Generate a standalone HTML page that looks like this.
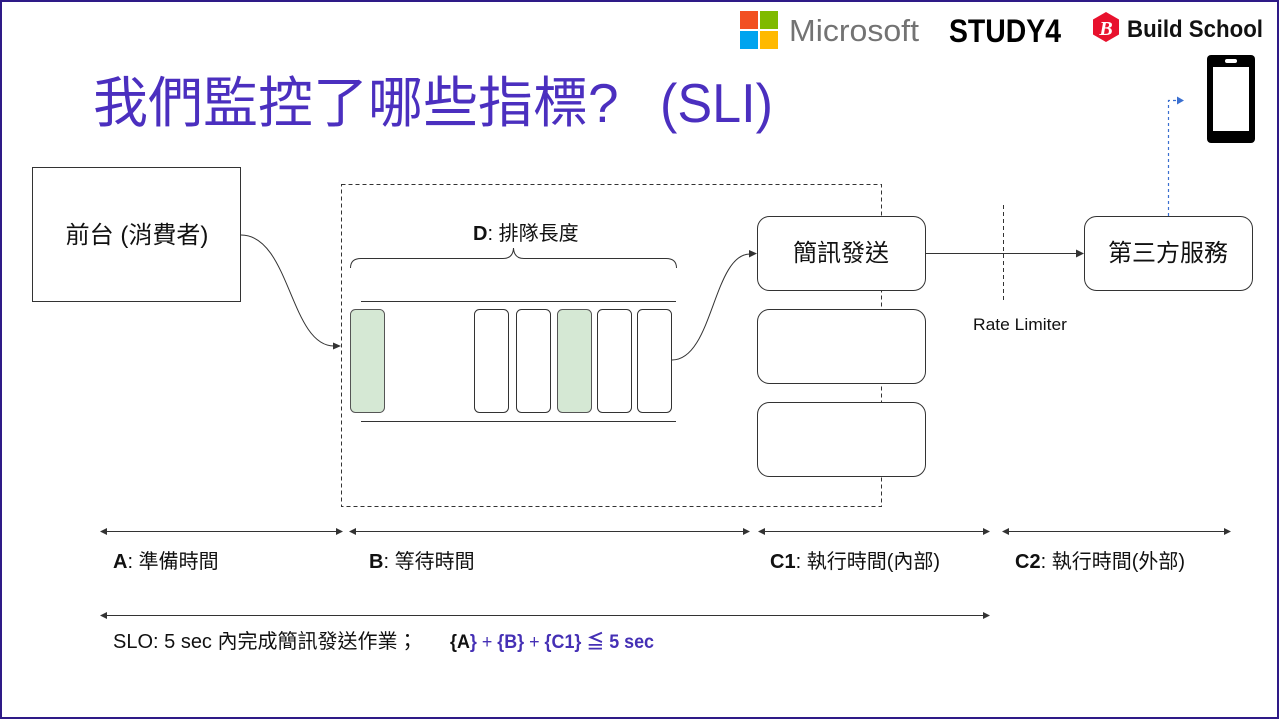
<!DOCTYPE html>
<html><head><meta charset="utf-8"><style>
html,body{margin:0;padding:0;background:#fff;}
svg{display:block;}
text{font-family:"Liberation Sans","Noto Sans CJK TC",sans-serif;}
</style></head><body>
<svg width="1280" height="720" viewBox="0 0 1280 720" xmlns="http://www.w3.org/2000/svg">
<rect x="0" y="0" width="1280" height="720" fill="#fff"/>
<rect x="1" y="1" width="1277" height="717" fill="none" stroke="#2e1a87" stroke-width="2"/>

<!-- logos -->
<rect x="740" y="11" width="18" height="18" fill="#f25022"/>
<rect x="760" y="11" width="18" height="18" fill="#7fba00"/>
<rect x="740" y="31" width="18" height="18" fill="#00a4ef"/>
<rect x="760" y="31" width="18" height="18" fill="#ffb900"/>
<text x="789" y="41" font-size="31" fill="#737373" textLength="130" lengthAdjust="spacingAndGlyphs">Microsoft</text>
<text x="949" y="42" font-size="32" font-weight="bold" fill="#000" textLength="112" lengthAdjust="spacingAndGlyphs">STUDY4</text>
<polygon points="1106,12 1119,19.5 1119,34.5 1106,42 1093,34.5 1093,19.5" fill="#e8112d"/>
<text x="1106" y="35" font-size="20" font-weight="bold" font-style="italic" fill="#fff" text-anchor="middle" style="font-family:'Liberation Serif',serif">B</text>
<text x="1127" y="37" font-size="24" font-weight="bold" fill="#111" textLength="136" lengthAdjust="spacingAndGlyphs">Build School</text>

<!-- phone -->
<rect x="1207" y="55" width="48" height="88" rx="4" fill="#000"/>
<rect x="1213" y="67" width="36" height="64" fill="#fff"/>
<rect x="1225" y="59" width="12" height="4" rx="2" fill="#fff"/>

<!-- blue dashed arrow -->
<path d="M1168.5,216 L1168.5,100.5 L1177,100.5" fill="none" stroke="#3a6fd0" stroke-width="1.2" stroke-dasharray="3,3"/>
<polygon points="1184,100.5 1177,96.5 1177,104.5" fill="#3a6fd0"/>

<!-- title -->
<text x="93" y="122" font-size="55" fill="#4b2fbf">我們監控了哪些指標?</text>
<text x="660" y="122" font-size="55" fill="#4b2fbf" textLength="113" lengthAdjust="spacingAndGlyphs">(SLI)</text>

<!-- 前台 box -->
<rect x="32.5" y="167.5" width="208" height="134" fill="#fff" stroke="#333" stroke-width="1"/>
<text x="137" y="243" font-size="24" fill="#111" text-anchor="middle">前台 (消費者)</text>

<!-- curve 1 -->
<path d="M241,235 C290,235 290,346 334,346" fill="none" stroke="#333" stroke-width="1"/>
<polygon points="341,346 333,342.5 333,349.5" fill="#333"/>

<!-- dashed container -->
<rect x="341.5" y="184.5" width="540" height="322" fill="none" stroke="#333" stroke-width="1" stroke-dasharray="4,3"/>

<!-- D label + brace -->
<text x="473" y="240" font-size="20" fill="#111"><tspan font-weight="bold">D</tspan>: 排隊長度</text>
<path d="M350.5,268 Q350.5,258.5 361,258.5 L503,258.5 Q513,258.5 513.5,248 Q514,258.5 524,258.5 L666,258.5 Q676.5,258.5 676.5,268" fill="none" stroke="#333" stroke-width="1"/>

<!-- queue -->
<line x1="361" y1="301.5" x2="676" y2="301.5" stroke="#333" stroke-width="1"/>
<line x1="361" y1="421.5" x2="676" y2="421.5" stroke="#333" stroke-width="1"/>
<rect x="350.5" y="309.5" width="34" height="103" rx="5" fill="#d5e8d4" stroke="#555"/>
<rect x="474.5" y="309.5" width="34" height="103" rx="5" fill="#fff" stroke="#333"/>
<rect x="516.5" y="309.5" width="34" height="103" rx="5" fill="#fff" stroke="#333"/>
<rect x="557.5" y="309.5" width="34" height="103" rx="5" fill="#d5e8d4" stroke="#555"/>
<rect x="597.5" y="309.5" width="34" height="103" rx="5" fill="#fff" stroke="#333"/>
<rect x="637.5" y="309.5" width="34" height="103" rx="5" fill="#fff" stroke="#333"/>

<!-- curve 2 -->
<path d="M672,360 C713,360 713,254 750,254" fill="none" stroke="#333" stroke-width="1"/>
<polygon points="757,253.5 749,250 749,257.5" fill="#333"/>

<!-- worker boxes -->
<rect x="757.5" y="216.5" width="168" height="74" rx="12" fill="#fff" stroke="#333"/>
<text x="841" y="261" font-size="24" fill="#111" text-anchor="middle">簡訊發送</text>
<rect x="757.5" y="309.5" width="168" height="74" rx="12" fill="#fff" stroke="#333"/>
<rect x="757.5" y="402.5" width="168" height="74" rx="12" fill="#fff" stroke="#333"/>

<!-- to third party -->
<line x1="926" y1="253.5" x2="1077" y2="253.5" stroke="#333" stroke-width="1"/>
<polygon points="1084,253.5 1076,249.5 1076,257.5" fill="#333"/>
<line x1="1003.5" y1="205" x2="1003.5" y2="300" stroke="#333" stroke-width="1" stroke-dasharray="4,3"/>
<text x="973" y="330" font-size="16.5" fill="#111" textLength="94" lengthAdjust="spacingAndGlyphs">Rate Limiter</text>

<rect x="1084.5" y="216.5" width="168" height="74" rx="12" fill="#fff" stroke="#333"/>
<text x="1168" y="261" font-size="24" fill="#111" text-anchor="middle">第三方服務</text>

<!-- dimension arrows -->
<g stroke="#333" stroke-width="1">
<line x1="106" y1="531.5" x2="337" y2="531.5"/>
<line x1="355" y1="531.5" x2="744" y2="531.5"/>
<line x1="764" y1="531.5" x2="984" y2="531.5"/>
<line x1="1008" y1="531.5" x2="1225" y2="531.5"/>
<line x1="106" y1="615.5" x2="984" y2="615.5"/>
</g>
<g fill="#333">
<polygon points="100,531.5 107,528 107,535"/>
<polygon points="343,531.5 336,528 336,535"/>
<polygon points="349,531.5 356,528 356,535"/>
<polygon points="750,531.5 743,528 743,535"/>
<polygon points="758,531.5 765,528 765,535"/>
<polygon points="990,531.5 983,528 983,535"/>
<polygon points="1002,531.5 1009,528 1009,535"/>
<polygon points="1231,531.5 1224,528 1224,535"/>
<polygon points="100,615.5 107,612 107,619"/>
<polygon points="990,615.5 983,612 983,619"/>
</g>

<!-- labels -->
<text x="113" y="568" font-size="20" fill="#111"><tspan font-weight="bold">A</tspan>: 準備時間</text>
<text x="369" y="568" font-size="20" fill="#111"><tspan font-weight="bold">B</tspan>: 等待時間</text>
<text x="770" y="568" font-size="20" fill="#111"><tspan font-weight="bold">C1</tspan>: 執行時間(內部)</text>
<text x="1015" y="568" font-size="20" fill="#111"><tspan font-weight="bold">C2</tspan>: 執行時間(外部)</text>

<text x="113" y="648" font-size="20" fill="#111">SLO: 5 sec 內完成簡訊發送作業；</text>
<text x="450" y="648" font-size="19" font-weight="bold" fill="#4530b5" textLength="204" lengthAdjust="spacingAndGlyphs"><tspan fill="#111">{A</tspan>} <tspan font-weight="normal">+</tspan> {B} <tspan font-weight="normal">+</tspan> {C1} ≦ 5 sec</text>
</svg>
</body></html>
